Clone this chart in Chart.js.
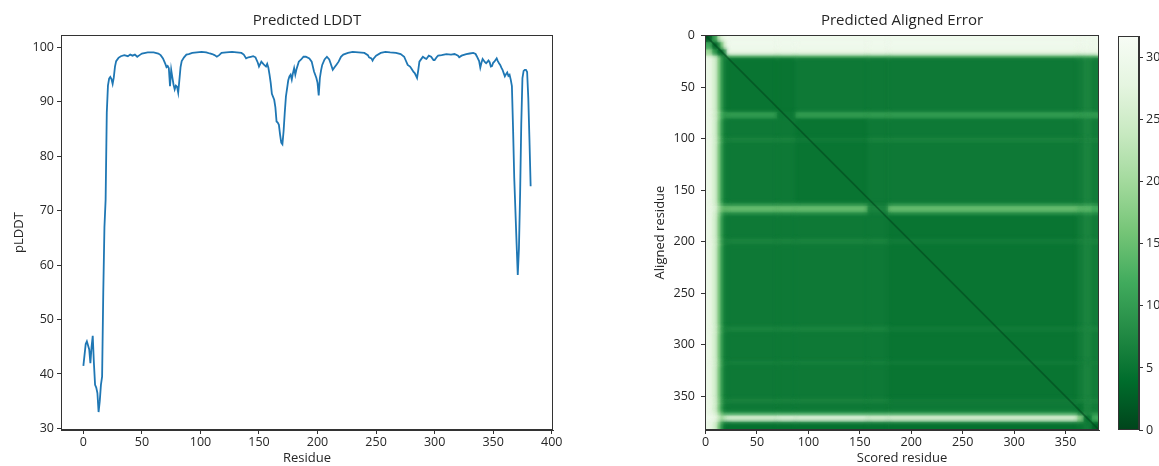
<!DOCTYPE html>
<html><head><meta charset="utf-8">
<script src="https://cdn.jsdelivr.net/npm/chart.js@4.4.0/dist/chart.umd.min.js"></script>
<style>
html,body{margin:0;padding:0;background:#fff;width:1159px;height:466px;overflow:hidden;}
canvas{position:absolute;top:0;}
#c1{left:0;}
#c2{left:640px;}
#c3{left:1100px;}
</style></head><body>
<canvas id="c1" width="600" height="466"></canvas>
<canvas id="c2" width="470" height="466"></canvas>
<canvas id="c3" width="59" height="466"></canvas>
<script>
// ---------- Predicted LDDT data ----------
const residues = [0,2,3,5,6,7,8,9,10,11,12,13,14,15,16,17,18,19,20,21,22,23,24,25,26,27,28,30,32,35,38,40,42,44,46,48,50,55,60,64,66,68,70,71,72,73,74,75,76,77,78,79,80,81,82,83,84,86,88,90,93,97,101,105,108,110,112,114,116,118,122,127,131,135,137,139,141,143,145,147,149,150,152,154,156,157,158,159,160,161,163,164,165,166,167,168,169,170,171,172,173,174,175,176,177,178,179,180,181,182,184,186,188,190,193,195,197,199,200,201,202,203,204,206,208,210,211,213,215,216,218,220,222,226,230,235,240,243,244,246,247,248,250,254,258,262,267,271,274,275,277,279,280,282,283,285,286,287,289,290,292,293,295,297,299,300,302,303,306,310,314,317,320,321,323,327,330,333,335,336,338,339,340,341,343,344,346,347,348,349,350,351,353,354,355,356,357,358,359,360,361,362,363,364,365,366,367,368,369,370,371,372,373,374,375,376,377,378,379,380,381,382];
const plddt = [41.5,45.5,46,44.5,42,45,47,42,38,37.5,36.5,33,35,38,39.5,55,67,72,88,93,94.3,94.6,94.2,93.3,94.5,96.5,97.5,98.1,98.4,98.6,98.4,98.7,98.5,98.7,98.3,98.6,98.9,99.1,99.1,98.9,98.6,98.0,97.0,96.4,96.6,96.2,92.9,95.9,94.5,93.2,92.3,93.0,92.8,91.7,94.0,96.4,97.5,98.2,98.7,98.8,99.0,99.1,99.2,99.1,98.9,98.8,98.6,98.3,98.6,99.0,99.1,99.2,99.1,99.0,98.7,98.0,98.2,98.3,98.4,98.2,97.2,96.5,97.4,96.9,96.5,97.0,96.3,95.0,93.5,91.5,90.4,89.0,86.4,86.2,85.8,84.0,82.5,82.2,84.6,88.0,91.0,92.5,94.0,94.7,95.0,94.1,95.3,96.2,95.0,96.0,97.4,97.8,98.3,98.3,98.0,97.4,95.6,94.4,93.5,91.2,94.4,95.8,96.8,97.8,98.3,97.8,97.2,95.9,96.5,96.8,97.4,98.3,98.7,99.0,99.2,99.1,99.0,98.6,98.2,98.0,97.6,98.0,98.5,99.0,99.2,99.1,99.0,98.8,98.3,97.8,96.8,96.5,96.2,95.5,95.3,94.4,95.8,97.4,98.0,98.3,98.0,97.9,98.5,98.3,97.7,97.7,98.3,98.5,98.6,98.8,98.7,98.8,98.5,98.2,98.5,98.8,98.9,99.0,98.8,98.4,97.5,96.3,97.2,97.9,97.3,97.1,97.6,97.3,96.5,96.6,97.2,97.4,98.0,97.5,97.1,96.8,96.3,95.9,95.3,94.7,95.1,95.4,94.8,95.0,94.1,92.9,85.0,76.0,70.0,64.0,58.2,63.0,73.0,86.0,94.4,95.7,95.9,95.9,95.5,90.7,83.0,74.5];
const lddtXTicks = [0,50,100,150,200,250,300,350,400];
const lddtYTicks = [30,40,50,60,70,80,90,100];

// ---------- Predicted Aligned Error data (block estimates, residue edges) ----------
const paeColEdges = [0,7,12,15,18,21,70,88,158,178,362,368,376,383];
const paeRowEdges = [0,7,14,20,22,75,81,100,104,163,166,172,175,198,203,283,288,316,320,353,357,366,369,375,377,383];
const paeBlocks = [
  [2,10,22,27,29,30,30,30,30,30,30,30,30],
  [12,3,6,16,26,30,30,30,30,30,30,30,30],
  [20,10,4,3,8,29,29,29,29,29,29,29,29],
  [27,24,14,8,4,14,14,14,14,14,14,14,14],
  [29,26,18,10,6,5,5,5.5,5.5,5.5,6,7,6],
  [29,26,19,12,10,10,5.5,10,10,10,10,10,10],
  [29,26,18,10,6,5.5,5.5,5,5.5,5.5,6,7,6],
  [29,26,18,10,7,7,7,6,7,7,7,7.5,7],
  [29,26,18,10,6,5.5,5.5,5,5.5,5.5,6,7,6],
  [29,26,18,11,8,8,8,8,6,8,8,9,8],
  [29,27,21,16,15,15,15,15,7,15,14,14,12],
  [29,26,18,11,8,8,8,8,6,8,8,9,8],
  [29,26,18,10,6,5.5,5.5,5.5,5.5,5,6,7,6],
  [29,26,18,10,7,7,7,7,7,6,7,7.5,7],
  [29,26,18,10,6,5.5,5.5,5.5,5.5,5,6,7,6],
  [29,26,18,10,7,7,7,7,7,6,7,7.5,7],
  [29,26,18,10,6,5.5,5.5,5.5,5.5,5,6,7,6],
  [29,26,18,10,6.5,6.5,6.5,6.5,6.5,6,6.5,7,6.5],
  [29,26,18,10,6,5.5,5.5,5.5,5.5,5,6,7,6],
  [29,26,18,10,7,7,7,7,7,6,7,7.5,7],
  [29,26,18,10,6,5.5,5.5,5.5,5.5,5.5,5,7,6],
  [29,27,20,14,11,11,11,11,11,11,6,8,9],
  [30,29,25,20,24,26,27,27,26,26,18,5,12],
  [29,26,18,10,6,6,6,6,6,6,7,6,5],
  [29,26,17,9,4.5,4.5,4.5,4.5,4.5,4.5,5,6,3]
];
const diagonalResidues = [0,382];
const paeMin = 0, paeMax = 31.75;
const paeTicks = [0,50,100,150,200,250,300,350];
const cbarTicks = [0,5,10,15,20,25,30];

// ---------- styling ----------
const FONT = 'Open Sans';
const TXT = '#262626';
const LINE = '#333';
const greens = ['#f7fcf5','#e5f5e0','#c7e9c0','#a1d99b','#74c476','#41ab5d','#238b45','#006d2c','#00441b'];
function hex(h){return [1,3,5].map(i=>parseInt(h.substr(i,2),16));}
const greensRGB = greens.map(hex);
function cmap(v){
  const t = 1 - Math.max(0, Math.min(1, (v - paeMin)/(paeMax - paeMin)));
  const p = t*8, i = Math.min(7, Math.floor(p)), f = p - i;
  const a = greensRGB[i], b = greensRGB[i+1];
  return 'rgb(' + a.map((c,k)=>Math.round(c + (b[k]-c)*f)).join(',') + ')';
}
const tickFont = {family:FONT, size:12.5};
const titleFont = {family:FONT, size:13};

function frameTitle(text){
  return {id:'frameTitle', afterDraw(chart){
    const {ctx, chartArea:ca} = chart;
    ctx.save();
    ctx.strokeStyle = LINE; ctx.lineWidth = 1;
    ctx.strokeRect(Math.round(ca.left)+0.5, Math.round(ca.top)+0.5, Math.round(ca.right-ca.left)-1, Math.round(ca.bottom-ca.top)-1);
    if (text){
      ctx.fillStyle = TXT; ctx.font = '15px "' + FONT + '"';
      ctx.textAlign = 'center'; ctx.textBaseline = 'middle';
      ctx.fillText(text, (ca.left+ca.right)/2, 21);
    }
    ctx.restore();
  }};
}
function fixedTicks(arr){ return s => { s.ticks = arr.map(v=>({value:v})); }; }
function axisCommon(ticksArr, extra){
  return Object.assign({
    type:'linear',
    afterBuildTicks: fixedTicks(ticksArr),
    grid:{display:true, drawOnChartArea:false, drawTicks:true, tickLength:4, color:LINE},
    border:{display:true, color:LINE, width:1},
    ticks:{font:tickFont, color:TXT, autoSkip:false, maxRotation:0, padding:3}
  }, extra);
}

// ---------- Chart 1: Predicted LDDT ----------
new Chart(document.getElementById('c1'), {
  type:'line',
  data:{datasets:[{
    data: residues.map((r,i)=>({x:r, y:plddt[i]})),
    borderColor:'#1f77b4', borderWidth:1.8, pointRadius:0, tension:0, fill:false
  }]},
  options:{
    responsive:false, animation:false, devicePixelRatio:1,
    layout:{padding:{left:0, right:600-553, top:35, bottom:0}},
    plugins:{legend:{display:false}, tooltip:{enabled:false}, title:{display:false}},
    scales:{
      x: axisCommon(lddtXTicks, {min:-19.1, max:401.1, position:'bottom',
        afterFit:s=>{s.height = 36;},
        ticks:{font:tickFont, color:TXT, autoSkip:false, maxRotation:0, padding:1},
        title:{display:true, text:'Residue', font:titleFont, color:TXT, padding:{top:0,bottom:0}}}),
      y: axisCommon(lddtYTicks, {min:29.7, max:102.3, position:'left',
        afterFit:s=>{s.width = 61;},
        title:{display:true, text:'pLDDT', font:titleFont, color:TXT, padding:{top:11,bottom:0}}})
    }
  },
  plugins:[frameTitle('Predicted LDDT')]
});

// ---------- Chart 2: Predicted Aligned Error heatmap ----------
const heatmapPlugin = {id:'heatmap', beforeDatasetsDraw(chart){
  const {ctx, chartArea:ca, scales:{x, y}} = chart;
  ctx.save();
  ctx.beginPath(); ctx.rect(ca.left, ca.top, ca.right-ca.left, ca.bottom-ca.top); ctx.clip();
  const draw = () => {
    for (let r = 0; r < paeRowEdges.length-1; r++){
      for (let c = 0; c < paeColEdges.length-1; c++){
        const x1 = x.getPixelForValue(paeColEdges[c]-0.5), x2 = x.getPixelForValue(paeColEdges[c+1]-0.5);
        const y1 = y.getPixelForValue(paeRowEdges[r]-0.5), y2 = y.getPixelForValue(paeRowEdges[r+1]-0.5);
        ctx.fillStyle = cmap(paeBlocks[r][c]);
        ctx.fillRect(Math.min(x1,x2), Math.min(y1,y2), Math.abs(x2-x1)+0.6, Math.abs(y2-y1)+0.6);
      }
    }
  };
  draw();
  ctx.filter = 'blur(2px)';
  draw();
  ctx.filter = 'none';
  ctx.restore();
}};
new Chart(document.getElementById('c2'), {
  type:'scatter',
  data:{datasets:[{
    data: diagonalResidues.map(v=>({x:v, y:v})),
    showLine:true, borderColor:'rgba(0,68,27,0.55)', borderWidth:1.6, pointRadius:0
  }]},
  options:{
    responsive:false, animation:false, devicePixelRatio:1,
    layout:{padding:{left:0, right:470-459, top:35, bottom:0}},
    plugins:{legend:{display:false}, tooltip:{enabled:false}, title:{display:false}},
    scales:{
      x: axisCommon(paeTicks, {min:-0.5, max:382.5, position:'bottom',
        afterFit:s=>{s.height = 36;},
        ticks:{font:tickFont, color:TXT, autoSkip:false, maxRotation:0, padding:1},
        title:{display:true, text:'Scored residue', font:titleFont, color:TXT, padding:{top:0,bottom:0}}}),
      y: axisCommon(paeTicks, {min:-0.5, max:382.5, reverse:true, position:'left',
        afterFit:s=>{s.width = 65;},
        ticks:{font:tickFont, color:TXT, autoSkip:false, maxRotation:0, padding:6},
        title:{display:true, text:'Aligned residue', font:titleFont, color:TXT, padding:{top:12,bottom:0}}})
    }
  },
  plugins:[heatmapPlugin, frameTitle('Predicted Aligned Error')]
});

// ---------- Chart 3: colorbar ----------
const cbarPlugin = {id:'cbar', beforeDatasetsDraw(chart){
  const {ctx, chartArea:ca, scales:{y}} = chart;
  const y0 = y.getPixelForValue(paeMin), y1 = y.getPixelForValue(paeMax);
  const g = ctx.createLinearGradient(0, y0, 0, y1);
  for (let i = 0; i <= 16; i++){ const v = paeMin + (paeMax-paeMin)*i/16; g.addColorStop(i/16, cmap(v)); }
  ctx.save(); ctx.fillStyle = g; ctx.fillRect(ca.left, y1, ca.right-ca.left, y0-y1); ctx.restore();
}};
new Chart(document.getElementById('c3'), {
  type:'scatter',
  data:{datasets:[{data:[]}]},
  options:{
    responsive:false, animation:false, devicePixelRatio:1,
    layout:{padding:{left:18, right:0, top:36, bottom:36}},
    plugins:{legend:{display:false}, tooltip:{enabled:false}},
    scales:{
      x:{display:false, min:0, max:1},
      y: axisCommon(cbarTicks, {min:paeMin, max:paeMax, position:'right',
        afterFit:s=>{s.width = 20;},
        ticks:{font:tickFont, color:TXT, autoSkip:false, maxRotation:0, padding:3}})
    }
  },
  plugins:[cbarPlugin, frameTitle(null)]
});
</script>
</body></html>
